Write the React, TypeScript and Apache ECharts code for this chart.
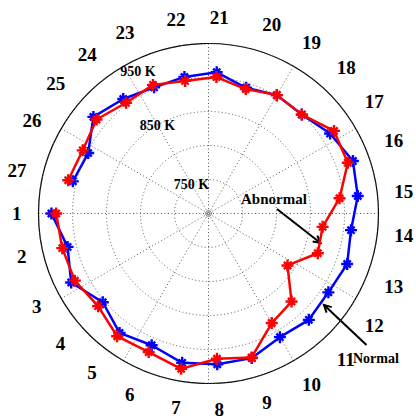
import { useEffect, useRef } from "react";
import * as echarts from "echarts";

// Sector numbers around the rim (counter-clockwise, starting at the left)
const categories = [
  "1", "2", "3", "4", "5", "6", "7", "8", "9", "10", "11", "12", "13", "14",
  "15", "16", "17", "18", "19", "20", "21", "22", "23", "24", "25", "26", "27",
];

// Temperatures in kelvin for each sector
const normalTemps = [
  931, 913, 926, 903, 919, 911, 923, 922, 922, 910, 915, 911, 917, 911,
  921, 926, 914, 900, 901, 893, 908, 904, 902, 910, 921, 898, 905,
];
const abnormalTemps = [
  924, 921, 920, 912, 925, 922, 932, 914, 921, 886, 878, 839, 871, 869,
  894, 918, 921, 900, 901, 891, 901, 898, 906, 903, 915, 907, 912,
];

// Radial scale and the rings that carry a label
const radiusMin = 700;
const radiusMax = 950;
const radiusStep = 50;
const labelledRings = [750, 850, 950];

const W = 416;
const H = 419;
const CX = 208.5;
const CY = 213.5;
const R = 170;
const FONT = "'Liberation Serif', 'Times New Roman', serif";

// Asterisk-like marker: a plus and a cross of thick bars
const STAR =
  "path://M0 8H20V12H0Z M8 0H12V20H8Z M5.4 2.6L17.4 14.6L14.6 17.4L2.6 5.4Z M17.4 5.4L5.4 17.4L2.6 14.6L14.6 2.6Z";

const DOTTED = { color: "#555", width: 1, type: [1, 2.5] as number[] };

function arrow(x1: number, y1: number, x2: number, y2: number, head = 8, spread = 28) {
  const a = Math.atan2(y1 - y2, x1 - x2);
  const s = (spread * Math.PI) / 180;
  return [
    {
      type: "line",
      shape: { x1, y1, x2, y2 },
      style: { stroke: "#000", lineWidth: 2 },
      silent: true,
    },
    {
      type: "polyline",
      shape: {
        points: [
          [x2 + head * Math.cos(a + s), y2 + head * Math.sin(a + s)],
          [x2, y2],
          [x2 + head * Math.cos(a - s), y2 + head * Math.sin(a - s)],
        ],
      },
      style: { stroke: "#000", lineWidth: 2, fill: null },
      silent: true,
    },
  ];
}

function loop(vals: number[]) {
  const pts: any[] = vals.map((v, i) => [v, categories[i]]);
  pts.push({ value: [vals[0], categories[0]], symbol: "none" });
  return pts;
}

export default function App() {
  const ref = useRef<HTMLDivElement>(null);

  useEffect(() => {
    if (!ref.current) return;
    const chart = echarts.init(ref.current, null, { renderer: "svg" });

    chart.setOption({
      animation: false,
      backgroundColor: "#fff",
      polar: [
        { center: [CX, CY], radius: R },
        { center: [CX, CY], radius: R },
      ],
      angleAxis: [
        {
          polarIndex: 0,
          type: "value",
          min: 0,
          max: 360,
          interval: 30,
          startAngle: 120,
          axisLine: { show: true, lineStyle: { color: "#000", width: 1.2 } },
          axisTick: { show: false },
          axisLabel: { show: false },
          splitLine: { show: true, lineStyle: DOTTED },
        },
        {
          polarIndex: 1,
          type: "category",
          data: categories,
          boundaryGap: false,
          startAngle: 180,
          clockwise: false,
          axisLine: { show: false },
          axisTick: { show: false },
          splitLine: { show: false },
          axisLabel: {
            show: true,
            interval: 0,
            margin: 17,
            color: "#000",
            fontFamily: FONT,
            fontWeight: "bold",
            fontSize: 19,
          },
        },
      ],
      radiusAxis: [
        {
          polarIndex: 0,
          type: "value",
          min: radiusMin,
          max: radiusMax,
          interval: radiusStep,
          axisLine: { show: false },
          axisTick: { show: false },
          splitLine: { show: true, lineStyle: DOTTED },
          axisLabel: {
            show: true,
            margin: 0,
            align: "center",
            verticalAlign: "middle",
            color: "#000",
            fontFamily: FONT,
            fontWeight: "bold",
            fontSize: 14,
            formatter: (v: number) => {
              if (!labelledRings.includes(v)) return "";
              if (v === radiusMax) return `{edge|${v} K}`;
              return `${v} K`;
            },
            rich: {
              edge: {
                padding: [11, 0, 0, 29],
                fontFamily: FONT,
                fontWeight: "bold",
                fontSize: 14,
                color: "#000",
              },
            },
          },
          z: 5,
        },
        {
          polarIndex: 1,
          type: "value",
          min: radiusMin,
          max: radiusMax,
          show: false,
        },
      ],
      series: [
        {
          type: "scatter",
          coordinateSystem: "polar",
          polarIndex: 0,
          data: [[radiusMin, 0]],
          symbol: "circle",
          symbolSize: 6,
          itemStyle: { color: "transparent", borderColor: "#666", borderWidth: 1 },
          silent: true,
        },
        {
          name: "Normal",
          type: "line",
          coordinateSystem: "polar",
          polarIndex: 1,
          data: loop(normalTemps),
          symbol: STAR,
          symbolSize: 12,
          lineStyle: { color: "#0000ff", width: 2.5 },
          itemStyle: { color: "#0000ff" },
          silent: true,
          z: 3,
        },
        {
          name: "Abnormal",
          type: "line",
          coordinateSystem: "polar",
          polarIndex: 1,
          data: loop(abnormalTemps),
          symbol: STAR,
          symbolSize: 12,
          lineStyle: { color: "#ff0000", width: 2.5 },
          itemStyle: { color: "#ff0000" },
          silent: true,
          z: 4,
        },
      ],
      graphic: [
        {
          type: "text",
          left: 241,
          top: 191,
          style: {
            text: "Abnormal",
            fill: "#000",
            font: `bold 15px ${FONT}`,
          },
          silent: true,
        },
        {
          type: "text",
          left: 353,
          top: 351,
          style: {
            text: "Normal",
            fill: "#000",
            font: `bold 14px ${FONT}`,
          },
          silent: true,
        },
        ...arrow(277, 209, 320.5, 243),
        ...arrow(366.5, 345, 324, 305),
      ],
    });

    return () => chart.dispose();
  }, []);

  return (
    <div
      ref={ref}
      style={{ position: "fixed", left: 0, top: 0, width: W, height: H }}
    />
  );
}
